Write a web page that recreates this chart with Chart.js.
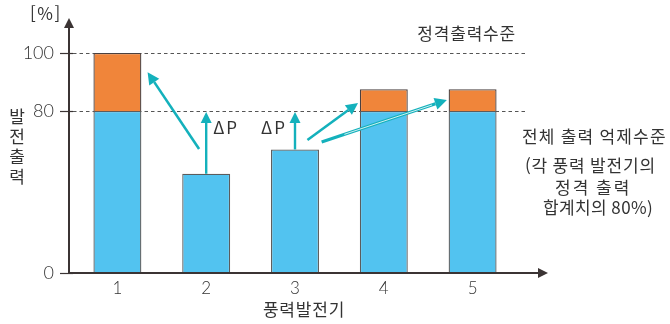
<!DOCTYPE html>
<html lang="ko">
<head>
<meta charset="utf-8">
<title>풍력발전기 출력 억제</title>
<script src="https://cdn.jsdelivr.net/npm/chart.js@4/dist/chart.umd.min.js"></script>
<style>
  html, body { margin: 0; padding: 0; background: #fff; }
  #wrap { width: 670px; height: 324px; }
</style>
</head>
<body>
<div id="wrap"><canvas id="outputChart" width="670" height="324"></canvas></div>
<script>
// ── Data ─────────────────────────────────────────────
const generators     = ['1', '2', '3', '4', '5'];
const keptOutput     = [80, 49, 61, 80, 80];        // 억제 후 출력 (blue)
const shiftedOutput  = [20, null, null, 7.5, 7.5];  // 증가분 (orange)
const yTicks         = [0, 80, 100];
const ratedLevel     = 100;   // 정격출력수준
const capLevel       = 80;    // 전체 출력 억제수준

// ΔP transfer arrows, [category index, %]
const transferArrows = [
  { from: [0.92, 61.2], to: [0.34, 93.4] },
  { from: [2.14, 65.7], to: [2.71, 82.8] },
  { from: [2.30, 64.7], to: [3.71, 83.8], hollow: true }
];
const deltaBars = [1, 2];   // bars that get a ΔP arrow up to the cap

const BLUE   = '#52c3f0';
const ORANGE = '#f0853a';
const TEAL   = '#14b1bc';
const AXIS   = '#3b3434';
const TEXT   = '#333333';
const FONT   = '"Noto Sans CJK KR", "Noto Sans", sans-serif';
const NUM_FONT = 'Lato, "Noto Sans CJK KR", sans-serif';

// ── Y scale: 0–80 and 80–100 drawn at different rates ──
const STRETCH = 1.432;
const warp   = v => v <= capLevel ? v : capLevel + (v - capLevel) * STRETCH;
const unwarp = u => u <= capLevel ? u : capLevel + (u - capLevel) / STRETCH;

class BrokenScale extends Chart.LinearScale {
  getPixelForValue(value) { return super.getPixelForValue(warp(value)); }
  getValueForPixel(pixel) { return unwarp(super.getValueForPixel(pixel)); }
}
BrokenScale.id = 'broken';
BrokenScale.defaults = Chart.LinearScale.defaults;
Chart.register(BrokenScale);

// ── Helpers ──────────────────────────────────────────
function arrow(ctx, x1, y1, x2, y2, color, width, head, hollow) {
  const ang = Math.atan2(y2 - y1, x2 - x1);
  const bx = x2 - Math.cos(ang) * head, by = y2 - Math.sin(ang) * head;
  ctx.save();
  ctx.strokeStyle = color;
  ctx.fillStyle = color;
  ctx.lineWidth = width;
  ctx.beginPath();
  ctx.moveTo(x1, y1);
  ctx.lineTo(bx, by);
  ctx.stroke();
  if (hollow) {
    // thin white stripe along most of the shaft
    ctx.strokeStyle = '#ffffff';
    ctx.lineWidth = 0.8;
    ctx.beginPath();
    ctx.moveTo(x1 + (bx - x1) * 0.2, y1 + (by - y1) * 0.2);
    ctx.lineTo(x1 + (bx - x1) * 0.97, y1 + (by - y1) * 0.97);
    ctx.stroke();
  }
  const hw = head * 0.5;
  ctx.beginPath();
  ctx.moveTo(x2, y2);
  ctx.lineTo(bx - Math.sin(ang) * hw, by + Math.cos(ang) * hw);
  ctx.lineTo(bx + Math.sin(ang) * hw, by - Math.cos(ang) * hw);
  ctx.closePath();
  ctx.fill();
  ctx.restore();
}

function text(ctx, str, x, y, size, align, spacing) {
  ctx.save();
  ctx.font = `${size}px ${FONT}`;
  ctx.letterSpacing = (spacing || 0) + 'px';
  ctx.fillStyle = TEXT;
  ctx.textAlign = align || 'left';
  ctx.textBaseline = 'middle';
  ctx.fillText(str, x, y);
  ctx.restore();
}

// ── Decorations: axes, level lines, arrows, notes ────
const decorations = {
  id: 'decorations',
  beforeDatasetsDraw(chart) {
    const { ctx, chartArea: a, scales: { y } } = chart;
    const ax = a.left - 4;
    ctx.save();
    ctx.strokeStyle = '#555';
    ctx.lineWidth = 1;
    ctx.setLineDash([3.5, 3]);
    [capLevel, ratedLevel].forEach(v => {
      const py = Math.round(y.getPixelForValue(v)) + 0.5;
      ctx.beginPath();
      ctx.moveTo(ax + 4, py);
      ctx.lineTo(a.right + 9, py);
      ctx.stroke();
    });
    ctx.restore();

    // short solid tick marks across the y axis
    ctx.save();
    ctx.strokeStyle = AXIS;
    ctx.lineWidth = 1.2;
    yTicks.forEach(v => {
      const py = Math.round(y.getPixelForValue(v)) + 0.5;
      ctx.beginPath();
      ctx.moveTo(ax - 9, py);
      ctx.lineTo(ax + 4, py);
      ctx.stroke();
    });
    ctx.restore();
  },
  afterDatasetsDraw(chart) {
    const { ctx, chartArea: a, scales: { x, y } } = chart;
    const ax = a.left - 4, ay = a.bottom;

    // axes with arrowheads
    arrow(ctx, ax, ay, ax, a.top - 35, AXIS, 2, 10, false);
    arrow(ctx, ax, ay, a.right + 31, ay, AXIS, 2, 10, false);

    // ΔP arrows straight up to the cap
    deltaBars.forEach(i => {
      const px = x.getPixelForValue(i);
      arrow(ctx, px, y.getPixelForValue(keptOutput[i]), px, y.getPixelForValue(capLevel) + 1, TEAL, 2.4, 11, false);
    });
    text(ctx, 'ΔP', x.getPixelForValue(1) + 7, y.getPixelForValue(capLevel) + 17, 17, 'left', 2);
    text(ctx, 'ΔP', x.getPixelForValue(2) - 8, y.getPixelForValue(capLevel) + 17, 17, 'right', 2);

    // ΔP handed over to other turbines
    transferArrows.forEach(t => {
      arrow(ctx,
        x.getPixelForValue(t.from[0]), y.getPixelForValue(t.from[1]),
        x.getPixelForValue(t.to[0]), y.getPixelForValue(t.to[1]),
        TEAL, t.hollow ? 3.2 : 2.6, 12, t.hollow);
    });

    // labels
    text(ctx, '[%]', 30, 14, 17, 'left', 1.5);
    ['발', '전', '출', '력'].forEach((ch, k) => text(ctx, ch, 17, 117 + k * 20, 17, 'center'));
    text(ctx, '정격출력수준', a.right - 1, y.getPixelForValue(ratedLevel) - 19, 17, 'right', 0.8);
    text(ctx, '전체 출력 억제수준', 522, 137, 17, 'left', 1.2);
    text(ctx, '(각 풍력 발전기의', 525, 166, 17, 'left', 0.8);
    text(ctx, '정격 출력', 555, 188, 17, 'left', 2);
    text(ctx, '합계치의 80%)', 543, 208, 17, 'left', 0.4);
    text(ctx, '풍력발전기', 304, 310, 17, 'center', 0.8);
  }
};

// ── Chart ────────────────────────────────────────────
new Chart(document.getElementById('outputChart'), {
  type: 'bar',
  data: {
    labels: generators,
    datasets: [
      {
        label: '발전출력',
        data: keptOutput,
        backgroundColor: BLUE,
        borderColor: '#5c5c5c',
        borderWidth: 1.3,
        borderSkipped: 'start'
      },
      {
        label: '증가분',
        data: shiftedOutput,
        backgroundColor: ORANGE,
        borderColor: '#4a4040',
        borderWidth: 1.3,
        borderSkipped: 'start'
      }
    ]
  },
  options: {
    responsive: false,
    animation: false,
    devicePixelRatio: 1,
    layout: { padding: { top: 53, right: 153, bottom: 0, left: 0 } },
    datasets: { bar: { categoryPercentage: 1, barPercentage: 0.54 } },
    plugins: { legend: { display: false }, tooltip: { enabled: false } },
    scales: {
      x: {
        stacked: true,
        grid: { display: false, drawTicks: false },
        border: { display: false },
        ticks: { color: TEXT, font: { family: NUM_FONT, size: 17, weight: 300 }, padding: 5 },
        afterFit: s => { s.height = 51; }
      },
      y: {
        type: 'broken',
        stacked: true,
        min: 0,
        max: warp(ratedLevel),
        grid: { display: false, drawTicks: false },
        border: { display: false },
        afterBuildTicks: s => { s.ticks = yTicks.map(v => ({ value: v })); },
        ticks: {
          color: TEXT,
          font: { family: NUM_FONT, size: 18, weight: 300 },
          padding: 19,
          callback: v => String(v)
        },
        afterFit: s => { s.width = 73; }
      }
    }
  },
  plugins: [decorations]
});
</script>
</body>
</html>
